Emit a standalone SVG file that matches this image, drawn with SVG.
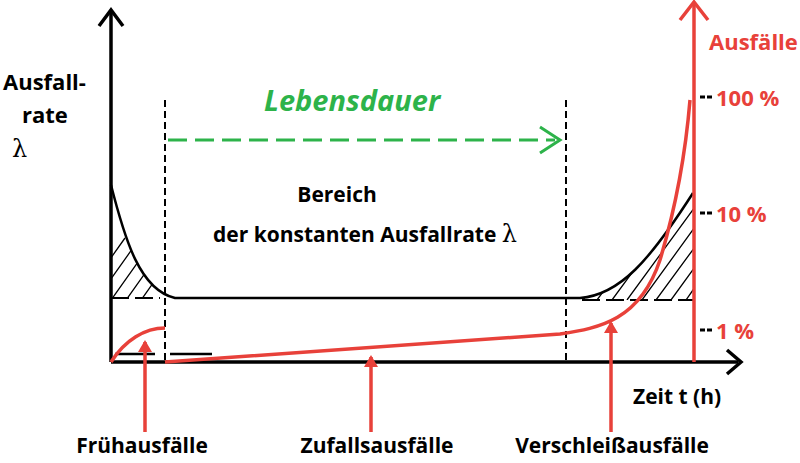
<svg xmlns="http://www.w3.org/2000/svg" width="800" height="463" viewBox="0 0 800 463">
<style>
text{font-family:"Open Sans","Liberation Sans",sans-serif;font-weight:bold;font-size:21px}
.k{fill:#000}.r{fill:#e8413a}
.ax{stroke:#000;stroke-width:3.5;fill:none}
.dash{stroke:#000;stroke-width:2;stroke-dasharray:7,4;fill:none}
.h{stroke:#000;stroke-width:1.3}
.red{stroke:#e8413a;stroke-width:3.5;fill:none}
</style>
<defs>
<clipPath id="cl"><path d="M111,185 C125,240 140,290 175,298 L111,298Z"/></clipPath>
<clipPath id="cr"><path d="M580,298 C620,295 650,260 693,193 L693,300 L580,300Z"/></clipPath>
</defs>
<g id="hatch-left" clip-path="url(#cl)">
<g class="h"><path d="M111,218 L60,290 M111,238 L60,310 M125,238 L74,310 M140,238 L89,310 M155,238 L104,310 M170,238 L119,310 M185,238 L134,310 M111,198 L60,270"/></g>
</g>
<g id="hatch-right" clip-path="url(#cr)">
<g class="h"><path d="M700,180 L612,300 M700,200 L627,300 M700,220 L642,300 M700,240 L656,300 M700,260 L671,300 M700,280 L686,300 M700,160 L597,300 M690,150 L583,300"/></g>
</g>
<g id="connectors">
<path class="ax" d="M111,362 V12"/>
<path d="M99,26 L111,10 L123,26" fill="none" stroke="#000" stroke-width="3.5"/>
<path class="ax" d="M111,362 H738"/>
<path d="M727,350 L741,362 L727,374" fill="none" stroke="#000" stroke-width="3.5"/>
<path class="dash" d="M165,100 V362 M566,100 V362"/>
<path d="M111,185 C125,240 140,290 175,298 L580,298 C620,295 650,260 693,193" fill="none" stroke="#000" stroke-width="2.5"/>
<path d="M111,298 H160 M582,300 H693" fill="none" stroke="#000" stroke-width="2" stroke-dasharray="18,6"/>
<path d="M115,354 H155 M170,354 H212" stroke="#000" stroke-width="2.5"/>
<path d="M168,140 H555" stroke="#2db34a" stroke-width="3" stroke-dasharray="19,8"/>
<path d="M540,127 L560,140 L540,153" fill="none" stroke="#2db34a" stroke-width="3"/>
<path class="red" d="M694,362 V4"/>
<path d="M680,20 L694,2 L708,20" fill="none" stroke="#e8413a" stroke-width="3.5"/>
<path d="M700,97 H712 M700,213 H712 M700,330 H712" stroke="#000" stroke-width="3" stroke-dasharray="5,2"/>
<path class="red" d="M111,362 C125,340 145,328 165,328"/>
<path class="red" d="M165,362 L560,334 C600,328 640,320 660,260 C675,210 685,160 690,100"/>
<path class="red" d="M145,432 V342 M371,432 V357 M611,432 V323"/>
<path d="M138,352 L145,340 L152,352 Z M364,367 L371,355 L378,367 Z M604,333 L611,321 L618,333 Z" fill="#e8413a"/>
</g>
<g id="labels">
<text class="k" x="3" y="90" style="font-size:22px">Ausfall-</text>
<text class="k" x="22" y="123" style="font-size:22px">rate</text>
<text class="k" x="12" y="157" style="font-family:'DejaVu Serif',serif;font-weight:normal;font-size:24px">λ</text>
<text x="352" y="111" text-anchor="middle" style="fill:#2db34a;font-style:italic;font-size:29px">Lebensdauer</text>
<text class="k" x="337" y="202" text-anchor="middle">Bereich</text>
<text class="k" x="365" y="242" text-anchor="middle">der konstanten Ausfallrate <tspan style="font-family:'DejaVu Serif',serif;font-weight:normal;font-size:24px">λ</tspan></text>
<text class="r" x="709" y="50" style="font-size:22px">Ausfälle</text>
<text class="r" x="716" y="106" style="font-size:22px">100 %</text>
<text class="r" x="716" y="222" style="font-size:22px">10 %</text>
<text class="r" x="716" y="339" style="font-size:22px">1 %</text>
<text class="k" x="633" y="404">Zeit t (h)</text>
<text class="k" x="142" y="453" text-anchor="middle">Frühausfälle</text>
<text class="k" x="377" y="453" text-anchor="middle">Zufallsausfälle</text>
<text class="k" x="612" y="453" text-anchor="middle">Verschleißausfälle</text>
</g>
</svg>
